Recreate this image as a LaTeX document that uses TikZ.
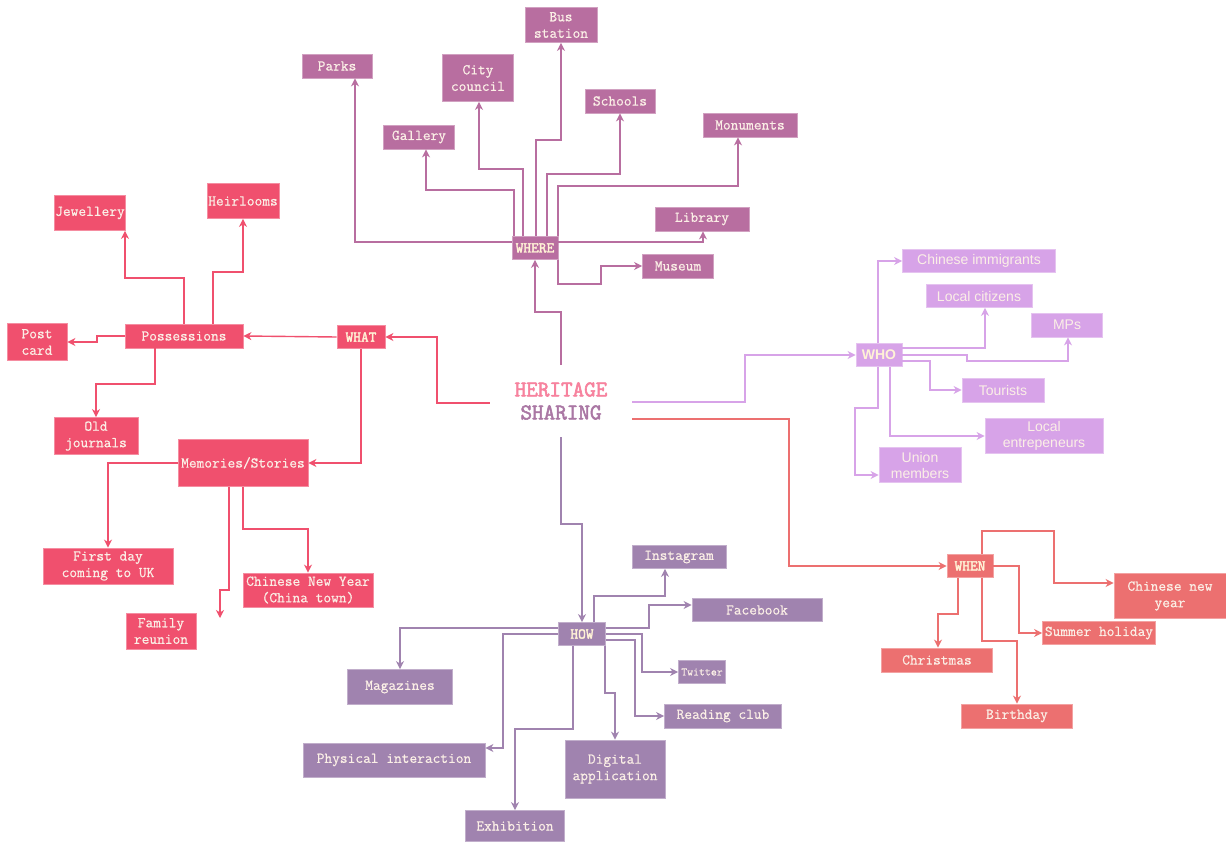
\documentclass[tikz,border=0pt]{standalone}
\usepackage{fontspec}
\setmainfont{Liberation Mono}
\newfontfamily\whofont{Liberation Sans}
\newfontfamily\boxfont[FakeBold=0.6]{Latin Modern Mono}
\newfontfamily\labfont[FakeBold=2.5]{Latin Modern Mono}
\usetikzlibrary{arrows.meta}
\definecolor{whereC}{HTML}{B86EA0}
\definecolor{whatC}{HTML}{F0506E}
\definecolor{whoC}{HTML}{D7A3E8}
\definecolor{whenC}{HTML}{EC7070}
\definecolor{howC}{HTML}{A083AF}
\definecolor{boxtext}{HTML}{FBEFE6}
\definecolor{labtext}{HTML}{FFF2D6}
\definecolor{hpink}{HTML}{F7829E}
\definecolor{hmauve}{HTML}{AA77A4}
\begin{document}
\begin{tikzpicture}[x=1pt,y=-1pt,
 box/.style={rectangle, inner sep=1pt, align=center, text=boxtext, line width=0.8pt, font=\boxfont\fontsize{15}{16.5}\selectfont},
 sz/.style 2 args={minimum width=#1pt, minimum height=#2pt},
 lab/.style={font=\labfont\fontsize{15}{16}\selectfont, text=labtext},
 whereB/.style={box, fill=whereC, draw=whereC!65!white},
 whatB/.style={box, fill=whatC, draw=whatC!65!white},
 whoB/.style={box, fill=whoC, draw=whoC!65!white, font=\whofont\fontsize{14}{16}\selectfont},
 whenB/.style={box, fill=whenC, draw=whenC!65!white},
 howB/.style={box, fill=howC, draw=howC!65!white},
 conn/.style={line width=1.4pt, -{Stealth[length=8pt,width=8pt,inset=2.5pt]}},
 whereL/.style={conn, draw=whereC},
 whatL/.style={conn, draw=whatC},
 whoL/.style={conn, draw=whoC},
 whenL/.style={conn, draw=whenC},
 howL/.style={conn, draw=howC},
]
\fill[white] (0,0) rectangle (1226,842);
\useasboundingbox (0,0) rectangle (1226,842);

% centre
\node[rectangle, inner sep=0pt, minimum width=142pt, minimum height=72pt, align=center,
  font=\labfont\fontsize{22.5}{23}\selectfont] (heritage) at (561,401)
  {\textcolor{hpink}{HERITAGE}\\\textcolor{hmauve}{SHARING}};

% WHERE
\node[whereB, sz={46}{23}, lab] (where) at (535,248) {WHERE};
\node[whereB, sz={70}{24}] (parks) at (337,66) {Parks};
\node[whereB, sz={71}{47}] (city) at (478,78) {City\\council};
\node[whereB, sz={72}{35}] (bus) at (561,25) {Bus\\station};
\node[whereB, sz={70}{24}] (schools) at (620,101) {Schools};
\node[whereB, sz={71}{24}] (gallery) at (419,137) {Gallery};
\node[whereB, sz={94}{24}] (monuments) at (750,125) {Monuments};
\node[whereB, sz={94}{24}] (library) at (702,219) {Library};
\node[whereB, sz={71}{24}] (museum) at (678,266) {Museum};

\draw[whereL] (heritage.north) -- (561,312) -| (where.south);
\draw[whereL] (where.west |- 0,242) -| (parks.south -| 355,0);
\draw[whereL] (where.north -| 514,0) -- (514,190) -| (gallery.south -| 426,0);
\draw[whereL] (where.north -| 523,0) -- (523,169) -| (city.south -| 479,0);
\draw[whereL] (where.north -| 536,0) -- (536,140) -| (bus.south -| 561,0);
\draw[whereL] (where.north -| 547,0) -- (547,174) -| (schools.south -| 620,0);
\draw[whereL] (where.north -| 558,0) -- (558,186) -| (monuments.south -| 738,0);
\draw[whereL] (where.east |- 0,242) -| (library.south -| 703,0);
\draw[whereL] (where.south -| 558,0) -- (558,284) -- (601,284) |- (museum.west);

% WHAT
\node[whatB, sz={48}{23}, lab] (what) at (361,337) {WHAT};
\node[whatB, sz={118}{24}] (poss) at (184,336) {Possessions};
\node[whatB, sz={70}{35}] (jewel) at (90,213) {Jewellery};
\node[whatB, sz={72}{35}] (heir) at (243,201) {Heirlooms};
\node[whatB, sz={60}{37}] (post) at (37,342) {Post\\card};
\node[whatB, sz={84}{37}] (oldj) at (96,436) {Old\\journals};
\node[whatB, sz={130}{47}] (mem) at (243,463) {Memories/Stories};
\node[whatB, sz={130}{36}] (first) at (108,566) {First day\\coming to UK};
\node[whatB, sz={130}{34}] (cny) at (308,590) {Chinese New Year\\(China town)};
\node[whatB, sz={70}{36}] (family) at (161,631) {Family\\reunion};
\coordinate (famend) at (220,618);

\draw[whatL] (heritage.west |- 0,403) -- (437,403) |- (what.east);
\draw[whatL] (what.west) -- (poss.east);
\draw[whatL] (what.south) |- (mem.east);
\draw[whatL] (poss.north -| 184,0) -- (184,278) -| (jewel.south -| 125,0);
\draw[whatL] (poss.north -| 213,0) -- (213,272) -| (heir.south -| 243,0);
\draw[whatL] (poss.west) -- (97,336) |- (post.east);
\draw[whatL] (poss.south -| 155,0) -- (155,384) -| (oldj.north);
\draw[whatL] (mem.west) -| (first.north);
\draw[whatL] (mem.south -| 229,0) -- (229,590) -- (220,590) -- (famend);
\draw[whatL] (mem.south -| 243,0) -- (243,529) -| (cny.north);

% WHO
\node[whoB, sz={46}{23}, font=\whofont\bfseries\fontsize{14}{15}\selectfont, text=labtext] (who) at (879,355) {WHO};
\node[whoB, sz={153}{23}] (chimm) at (979,261) {Chinese immigrants};
\node[whoB, sz={106}{23}] (lcit) at (979,296) {Local citizens};
\node[whoB, sz={71}{24}] (mps) at (1067,325) {MPs};
\node[whoB, sz={82}{24}] (tour) at (1003,390) {Tourists};
\node[whoB, sz={118}{35}] (lent) at (1044,436) {Local\\entrepeneurs};
\node[whoB, sz={82}{35}] (union) at (920,465) {Union\\members};

\draw[whoL] (heritage.east |- 0,402) -- (745,402) |- (who.west);
\draw[whoL] (who.north -| 878,0) |- (chimm.west);
\draw[whoL] (who.south -| 878,0) -- (878,408) -- (855,408) |- (union.west |- 0,475);
\draw[whoL] (who.east |- 0,348) -| (lcit.south -| 985,0);
\draw[whoL] (who.east |- 0,355) -- (967,355) -- (967,361) -| (mps.south -| 1068,0);
\draw[whoL] (who.east |- 0,361) -- (930,361) |- (tour.west);
\draw[whoL] (who.south -| 890,0) |- (lent.west);

% WHEN
\node[whenB, sz={46}{23}, lab] (when) at (970,566) {WHEN};
\node[whenB, sz={112}{45}] (cny2) at (1170,596) {Chinese new\\year};
\node[whenB, sz={113}{23}] (summer) at (1099,633) {Summer holiday};
\node[whenB, sz={111}{24}] (christ) at (937,660) {Christmas};
\node[whenB, sz={111}{24}] (birth) at (1017,716) {Birthday};

\draw[whenL] (heritage.east |- 0,419) -- (789,419) |- (when.west);
\draw[whenL] (when.north -| 982,0) -- (982,531) -- (1054,531) |- (cny2.west |- 0,583);
\draw[whenL] (when.east) -- (1019,566) |- (summer.west);
\draw[whenL] (when.south -| 958,0) -- (958,614) -| (christ.north -| 938,0);
\draw[whenL] (when.south -| 982,0) -- (982,641) -| (birth.north);

% HOW
\node[howB, sz={47}{23}, lab] (how) at (582,634) {HOW};
\node[howB, sz={94}{23}] (insta) at (679,557) {Instagram};
\node[howB, sz={130}{23}] (fb) at (757,610) {Facebook};
\node[howB, sz={47}{23}, font=\boxfont\fontsize{11.5}{13}\selectfont] (tw) at (702,672) {Twitter};
\node[howB, sz={105}{35}] (mag) at (400,687) {Magazines};
\node[howB, sz={117}{24}] (read) at (723,716) {Reading club};
\node[howB, sz={182}{34}] (phys) at (394,760) {Physical interaction};
\node[howB, sz={100}{58}] (dig) at (615,769) {Digital\\application};
\node[howB, sz={99}{31}] (exh) at (515,826) {Exhibition};

\draw[howL] (heritage.south) -- (561,524) -| (how.north);
\draw[howL] (how.north -| 594,0) -- (594,596) -| (insta.south -| 665,0);
\draw[howL] (how.east |- 0,628) -- (649,628) |- (fb.west |- 0,605);
\draw[howL] (how.east |- 0,634) -- (642,634) |- (tw.west);
\draw[howL] (how.east |- 0,640) -- (635,640) |- (read.west);
\draw[howL] (how.south -| 605,0) -- (605,693) -| (dig.north);
\draw[howL] (how.south -| 573,0) -- (573,729) -| (exh.north);
\draw[howL] (how.west) -- (503,634) |- (phys.east |- 0,748);
\draw[howL] (how.west |- 0,628) -| (mag.north);
\end{tikzpicture}
\end{document}
